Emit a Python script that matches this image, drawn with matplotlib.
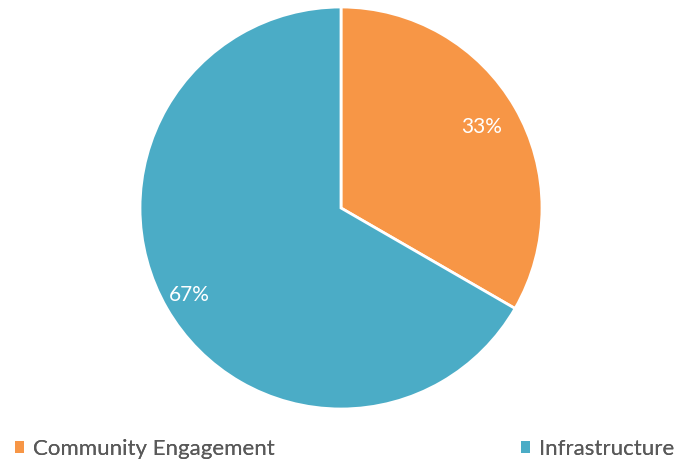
import numpy as np
import matplotlib
matplotlib.use('Agg')
import matplotlib.pyplot as plt
from matplotlib.patches import Patch

plt.rcParams['font.family'] = ['Lato', 'DejaVu Sans']

# Data (shares: one third vs two thirds)
categories = ['Community Engagement', 'Infrastructure']
values = [1, 2]
colors = ['#F79646', '#4BACC6']

fig = plt.figure(figsize=(6.77, 4.68), dpi=100)
ax = fig.add_axes([140 / 677, 59 / 468, 402 / 677, 402 / 468])

wedges, texts, autotexts = ax.pie(values, colors=colors, startangle=90,
                                  counterclock=False, radius=1,
                                  autopct='%1.0f%%', pctdistance=0.81,
                                  wedgeprops=dict(edgecolor='white', linewidth=2),
                                  textprops=dict(color='white', fontsize=15))
# the second label sits a little further out
x, y = autotexts[1].get_position()
autotexts[1].set_position((x * 0.87 / 0.81, y * 0.87 / 0.81))

ax.set_xlim(-1, 1)
ax.set_ylim(-1, 1)
ax.set_aspect('equal')
ax.axis('off')

# legend entries placed separately at the bottom
legend_x = [15 / 677, 521 / 677]
for cat, col, lx in zip(categories, colors, legend_x):
    leg = fig.legend([Patch(facecolor=col, edgecolor='none')], [cat],
                     loc='center left', bbox_to_anchor=(lx, 1 - 449 / 468),
                     frameon=False, fontsize=16, labelcolor='#595959',
                     handlelength=0.42, handleheight=0.42, handletextpad=0.4,
                     borderpad=0, borderaxespad=0)
    fig.add_artist(leg)

plt.savefig('out.png', dpi=100)
plt.close()
